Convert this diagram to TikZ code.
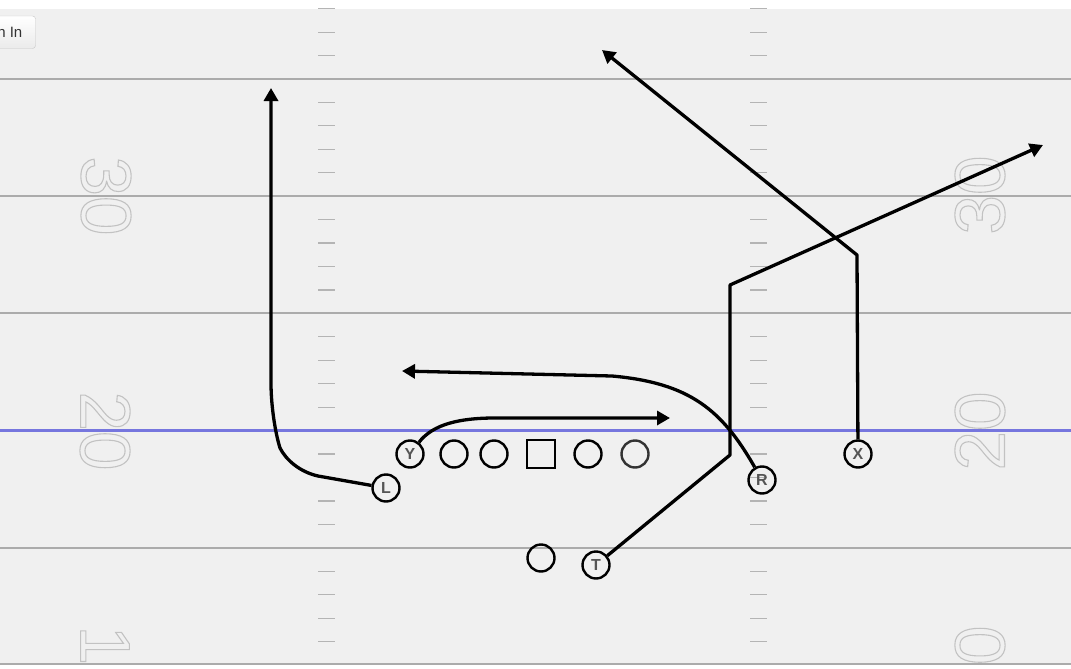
\documentclass[tikz,border=0pt]{standalone}
\usepackage{fontspec}
\setmainfont{Liberation Sans}
\usetikzlibrary{arrows.meta}
\definecolor{fieldbg}{HTML}{F0F0F0}
\definecolor{yardline}{HTML}{ABABAB}
\definecolor{hashgray}{HTML}{B4B4B4}
\definecolor{losblue}{HTML}{7676DE}
\definecolor{numgray}{HTML}{C2C2C2}
\definecolor{labelgray}{HTML}{555555}
\definecolor{btnborder}{HTML}{C6C6C6}
\newcommand\Outlined[1]{\special{pdf:literal direct 1 Tr 1.1 w}#1\special{pdf:literal direct 0 Tr}}
\newcommand\YardNumber[4]{
  \node[yardnum,rotate=#4] (#1) at (#2) {\Outlined{#3}};
}

\begin{document}
\begin{tikzpicture}[x=1pt,y=-1pt,
  yardnum/.style={inner sep=0pt,text=numgray,font=\fontsize{71}{71}\selectfont},
  player/.style={circle,draw=black,line width=2.4pt,minimum size=27pt,inner sep=0pt,
    text=labelgray,font=\bfseries\fontsize{16}{16}\selectfont},
  center/.style={rectangle,draw=black,line width=2.4pt,minimum size=28pt,inner sep=0pt},
  route/.style={line width=3.3pt,black,line join=round,-{Triangle[length=13pt,width=14pt]}},
  hash/.style={hashgray,line width=1.2pt}]
\useasboundingbox (0,0) rectangle (1071,669);
\fill[white] (0,0) rectangle (1071,669);
\begin{scope}
\clip (0,9) rectangle (1071,665);
\fill[fieldbg] (0,9) rectangle (1071,665);
% yard lines
\foreach \y in {79,196.2,313.4,547.8,664}
  \draw[yardline,line width=2pt] (0,\y) -- (1071,\y);
% hash marks
\foreach \k in {-1,...,4}
  \foreach \j in {1,...,4} {
    \pgfmathsetmacro\ty{79+117.2*\k+23.44*\j}
    \draw[hash] (318,\ty) -- (335,\ty);
    \draw[hash] (750,\ty) -- (767,\ty);
  }
% numbers
\YardNumber{n30l}{106,196}{30}{-90}
\YardNumber{n30r}{980,195}{30}{90}
\YardNumber{n20l}{105,431}{20}{-90}
\YardNumber{n20r}{980,431}{20}{90}
\YardNumber{n10l}{105,665}{10}{-90}
\YardNumber{n10r}{980,665}{10}{90}
% line of scrimmage
\draw[losblue,line width=3pt] (0,430.6) -- (1071,430.6);
\end{scope}

% zoom button
\shade[top color=white,bottom color=black!8,draw=btnborder,rounded corners=3pt]
  (-12,16) rectangle (35.5,48.5);
\node[anchor=east,inner sep=0pt,text=black!80,font=\fontsize{15}{15}\selectfont] (zoom) at (22.5,32) {n In};

% offense
\node[player] (Y) at (410,454) {Y};
\node[player] (g1) at (454,454) {};
\node[player] (g2) at (494,454) {};
\node[center] (C) at (541,454) {};
\node[player] (g3) at (588,454) {};
\node[player,draw=black!80] (g4) at (635,454) {};
\node[player] (X) at (858,454) {X};
\node[player] (L) at (386,488) {L};
\node[player] (R) at (762,480) {R};
\node[player] (Q) at (541,558) {};
\node[player] (T) at (596,565) {T};

% routes
\draw[route] (L) -- (318,476) .. controls (300,472) and (286,460) .. (280,448)
  .. controls (275,432) and (271,405) .. (271,383) -- (271,88);
\draw[route] (Y) .. controls (433,424) and (460,418) .. (495,418) -- (670,418);
\draw[route] (R) .. controls (722,410) and (690,383) .. (612,376) -- (402,371);
\draw[route] (X) -- (857,255) -- (602,50);
\draw[route] (T) -- (730,455) -- (730,285) -- (1043,145);
\end{tikzpicture}
\end{document}
